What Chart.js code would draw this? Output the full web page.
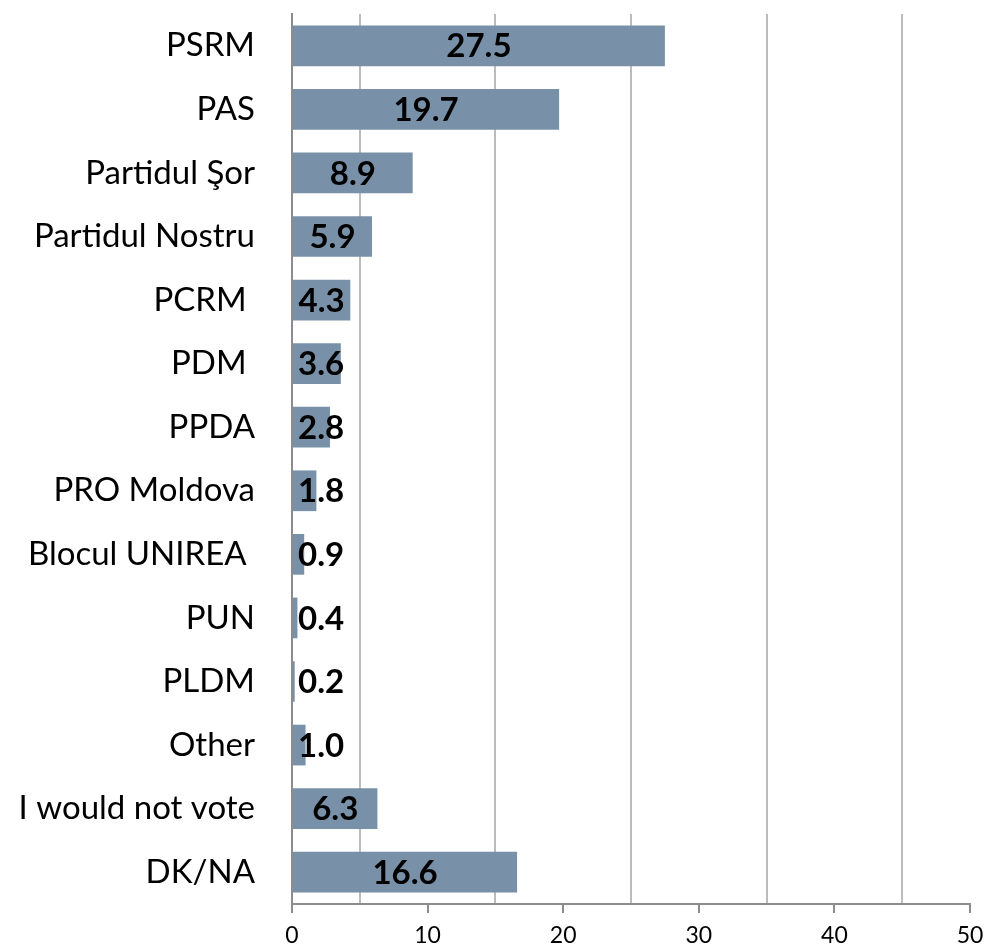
<!DOCTYPE html>
<html>
<head>
<meta charset="utf-8">
<style>
html,body{margin:0;padding:0;background:#fff;}
#wrap{width:989px;height:946px;}
</style>
<script src="https://cdn.jsdelivr.net/npm/chart.js@4"></script>
</head>
<body>
<div id="wrap"><canvas id="c" width="989" height="946"></canvas></div>
<script>
const categories = ["PSRM", "PAS", "Partidul Şor", "Partidul Nostru", "PCRM ", "PDM ", "PPDA", "PRO Moldova", "Blocul UNIREA ", "PUN", "PLDM", "Other", "I would not vote", "DK/NA"];
const values = [27.5, 19.7, 8.9, 5.9, 4.3, 3.6, 2.8, 1.8, 0.9, 0.4, 0.2, 1.0, 6.3, 16.6];
const xTickLabels = [0, 10, 20, 30, 40, 50];

const FONT = "Lato, 'Open Sans', sans-serif";

const valueLabels = {
  id: 'valueLabels',
  afterDatasetsDraw(chart) {
    const ctx = chart.ctx;
    const meta = chart.getDatasetMeta(0);
    const area = chart.chartArea;
    ctx.save();
    ctx.font = "bold 33px " + FONT;
    ctx.fillStyle = '#000';
    ctx.textAlign = 'center';
    ctx.textBaseline = 'middle';
    meta.data.forEach((bar, i) => {
      const txt = values[i].toFixed(1);
      const w = ctx.measureText(txt).width;
      let cx = (bar.base + bar.x) / 2;
      cx = Math.max(cx, area.left + 6 + w / 2);
      ctx.fillText(txt, cx, bar.y + 1);
    });
    ctx.restore();
  }
};

new Chart(document.getElementById('c'), {
  type: 'bar',
  data: {
    labels: categories,
    datasets: [{
      data: values,
      backgroundColor: '#7891a8',
      borderWidth: 0,
      barPercentage: 0.64,
      categoryPercentage: 1.0
    }]
  },
  options: {
    indexAxis: 'y',
    responsive: false,
    animation: false,
    devicePixelRatio: 1,
    layout: { padding: { top: 14, right: 19, bottom: 0, left: 0 } },
    plugins: { legend: { display: false }, tooltip: { enabled: false } },
    scales: {
      x: {
        min: 0, max: 50,
        afterFit(scale) { scale.height = 42; scale.paddingLeft = 0; scale.paddingRight = 0; },
        ticks: {
          stepSize: 5,
          autoSkip: false,
          maxRotation: 0,
          padding: 9,
          color: '#000',
          font: { family: FONT, size: 23 },
          callback: (v) => xTickLabels.includes(v) ? String(v) : ''
        },
        grid: {
          drawOnChartArea: true,
          drawTicks: true,
          tickLength: 9,
          lineWidth: 2,
          tickWidth: 2,
          color: (c) => (c.tick && c.tick.value % 10 === 5) ? '#bcbcbc' : 'rgba(0,0,0,0)',
          tickColor: (c) => (c.tick && xTickLabels.includes(c.tick.value)) ? '#8c8c8c' : 'rgba(0,0,0,0)'
        },
        border: { display: true, color: '#8c8c8c', width: 2 }
      },
      y: {
        afterFit(scale) { scale.width = 292; scale.paddingTop = 0; scale.paddingBottom = 0; },
        ticks: {
          padding: 37,
          color: '#000',
          font: { family: FONT, size: 33 }
        },
        grid: { drawOnChartArea: false, drawTicks: false },
        border: { display: true, color: '#8c8c8c', width: 2 }
      }
    }
  },
  plugins: [valueLabels]
});
</script>
</body>
</html>
